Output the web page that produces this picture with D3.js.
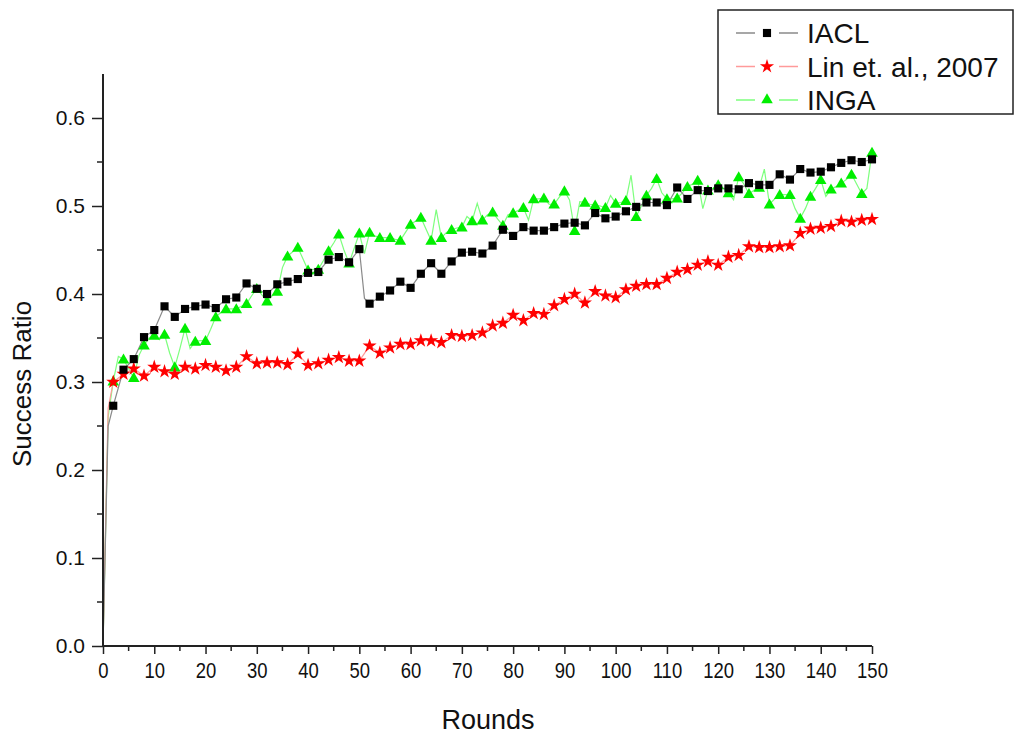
<!DOCTYPE html>
<html>
<head>
<meta charset="utf-8">
<script src="https://cdn.jsdelivr.net/npm/d3@7"></script>
<style>
  html, body { margin: 0; padding: 0; background: #fff; }
  svg { display: block; font-family: "Liberation Sans", Arial, sans-serif; }
</style>
</head>
<body>
<svg id="chart" width="1017" height="738"></svg>
<script>
// ---- data ----
const seriesNames = ["IACL", "Lin et. al., 2007", "INGA"];
const xTicks = [0,10,20,30,40,50,60,70,80,90,100,110,120,130,140,150];
const yTicks = [0.0,0.1,0.2,0.3,0.4,0.5,0.6];

// rounds where markers are drawn
const markerRounds = [0,2,4,6,8,10,12,14,16,18,20,22,24,26,28,30,32,34,36,38,40,42,44,46,48,50,52,54,56,58,60,62,64,66,68,70,72,74,76,78,80,82,84,86,88,90,92,94,96,98,100,102,104,106,108,110,112,114,116,118,120,122,124,126,128,130,132,134,136,138,140,142,144,146,148,150];

const iacl = [0,0.273,0.314,0.326,0.351,0.359,0.386,0.374,0.383,0.386,0.388,0.384,0.394,0.396,0.412,0.406,0.400,0.411,0.414,0.417,0.424,0.425,0.439,0.442,0.436,0.451,0.389,0.397,0.404,0.414,0.407,0.423,0.435,0.423,0.437,0.447,0.448,0.446,0.455,0.473,0.466,0.476,0.472,0.472,0.476,0.480,0.481,0.478,0.492,0.486,0.488,0.494,0.499,0.504,0.504,0.501,0.521,0.508,0.518,0.517,0.520,0.520,0.519,0.526,0.524,0.524,0.536,0.530,0.542,0.538,0.539,0.544,0.549,0.552,0.550,0.553];
const iaclExtraRounds = [1,51];
const iaclExtra = [0.25,0.395];

const lin = [0,0.300,0.309,0.315,0.307,0.317,0.312,0.309,0.317,0.315,0.319,0.317,0.313,0.317,0.329,0.321,0.322,0.322,0.320,0.332,0.319,0.321,0.325,0.328,0.324,0.324,0.341,0.333,0.339,0.343,0.343,0.347,0.347,0.345,0.353,0.352,0.353,0.356,0.364,0.367,0.376,0.370,0.378,0.377,0.387,0.394,0.400,0.390,0.403,0.398,0.396,0.405,0.409,0.411,0.411,0.418,0.425,0.428,0.433,0.437,0.433,0.442,0.444,0.454,0.453,0.453,0.454,0.455,0.469,0.474,0.475,0.477,0.483,0.482,0.484,0.485];
const linExtraRounds = [1];
const linExtra = [0.27];

const inga = [0,0.301,0.326,0.305,0.342,0.353,0.354,0.317,0.361,0.346,0.347,0.374,0.383,0.383,0.389,0.406,0.392,0.403,0.443,0.453,0.427,0.428,0.449,0.468,0.435,0.469,0.470,0.464,0.464,0.461,0.479,0.487,0.461,0.464,0.473,0.476,0.483,0.484,0.493,0.478,0.492,0.498,0.508,0.509,0.502,0.517,0.472,0.504,0.501,0.498,0.503,0.506,0.488,0.512,0.531,0.508,0.509,0.522,0.529,0.518,0.524,0.515,0.533,0.514,0.521,0.502,0.513,0.513,0.486,0.511,0.530,0.519,0.526,0.536,0.514,0.561];
// INGA line also has values on the odd rounds between markers
const ingaOddRounds = [1,3,5,7,9,11,13,15,17,19,21,23,25,27,29,31,33,35,37,39,41,43,45,47,49,51,53,55,57,59,61,63,65,67,69,71,73,75,77,79,81,83,85,87,89,91,93,95,97,99,101,103,105,107,109,111,113,115,117,119,121,123,125,127,129,131,133,135,137,139,141,143,145,147,149];
const ingaOdd = [0.26,0.329,0.315,0.330,0.350,0.348,0.333,0.338,0.338,0.347,0.360,0.379,0.383,0.386,0.398,0.399,0.398,0.430,0.448,0.440,0.428,0.438,0.458,0.450,0.452,0.446,0.466,0.464,0.462,0.470,0.483,0.474,0.496,0.470,0.475,0.488,0.503,0.490,0.485,0.490,0.495,0.484,0.508,0.502,0.510,0.507,0.505,0.502,0.500,0.512,0.504,0.535,0.500,0.520,0.515,0.508,0.515,0.525,0.497,0.520,0.520,0.507,0.525,0.518,0.542,0.508,0.513,0.497,0.497,0.520,0.511,0.522,0.530,0.525,0.520];

// ---- layout ----
const svg = d3.select("#chart");
const x = d3.scaleLinear().domain([0,150]).range([103,872]);
const y = d3.scaleLinear().domain([0,0.6]).range([646,118]);

function pts(rs, vs, exR, exV) {
  const a = rs.map((r,i)=>({r, v: vs[i]}));
  if (exR) exR.forEach((r,i)=>a.push({r, v: exV[i]}));
  return a.sort((p,q)=>p.r-q.r);
}

const line = d3.line().x(d=>x(d.r)).y(d=>y(d.v));

// series lines
svg.append("path").datum(pts(markerRounds, inga, ingaOddRounds, ingaOdd))
  .attr("d", line).attr("fill","none").attr("stroke","#7dff7d").attr("stroke-width",1.2);
svg.append("path").datum(pts(markerRounds, lin, linExtraRounds, linExtra))
  .attr("d", line).attr("fill","none").attr("stroke","#ff9a9a").attr("stroke-width",1.2);
svg.append("path").datum(pts(markerRounds, iacl, iaclExtraRounds, iaclExtra))
  .attr("d", line).attr("fill","none").attr("stroke","#8a8a8a").attr("stroke-width",1.2);

// markers (the point at round 0 sits on the axis corner and is not marked)
const symSquare = d3.symbol().type(d3.symbolSquare).size(66);
const symStar = d3.symbol().type(d3.symbolStar).size(62);
const symTri = d3.symbol().type(d3.symbolTriangle).size(58);
const notZero = d => d.r > 0;

svg.append("g").selectAll("path").data(pts(markerRounds, inga).filter(notZero)).join("path")
  .attr("d", symTri).attr("transform", d=>`translate(${x(d.r)},${y(d.v)+1})`).attr("fill","#00ee00");
svg.append("g").selectAll("path").data(pts(markerRounds, lin).filter(notZero)).join("path")
  .attr("d", symStar).attr("transform", d=>`translate(${x(d.r)},${y(d.v)})`).attr("fill","#ff0000");
svg.append("g").selectAll("path").data(pts(markerRounds, iacl).filter(notZero)).join("path")
  .attr("d", symSquare).attr("transform", d=>`translate(${x(d.r)},${y(d.v)})`).attr("fill","#000");

// axes
const xAxis = d3.axisBottom(x).tickValues(xTicks).tickFormat(d3.format("d")).tickSize(8).tickPadding(8);
const gx = svg.append("g").attr("transform","translate(0,646)").call(xAxis);
gx.select(".domain").remove();
gx.append("g").selectAll("line").data([5,15,25,35,45,55,65,75,85,95,105,115,125,135,145]).join("line")
  .attr("x1",d=>x(d)).attr("x2",d=>x(d)).attr("y1",0).attr("y2",5).attr("stroke","#222").attr("stroke-width",1.5);
gx.append("line").attr("x1",103).attr("x2",x(150)).attr("y1",0).attr("y2",0).attr("stroke","#222").attr("stroke-width",2);
gx.selectAll(".tick line").attr("stroke","#222").attr("stroke-width",1.5);
gx.selectAll(".tick text").attr("font-size",22).attr("fill","#111")
  .attr("font-family","Liberation Sans, Arial, sans-serif")
  .attr("transform","scale(0.84,1)");

const yAxis = d3.axisLeft(y).tickValues(yTicks).tickFormat(d3.format(".1f")).tickSize(11).tickPadding(7);
const gy = svg.append("g").attr("transform","translate(103,0)").call(yAxis);
gy.select(".domain").remove();
gy.append("g").selectAll("line").data([0.05,0.15,0.25,0.35,0.45,0.55]).join("line")
  .attr("x1",-6).attr("x2",0).attr("y1",d=>y(d)).attr("y2",d=>y(d)).attr("stroke","#222").attr("stroke-width",1.5);
gy.append("line").attr("x1",0).attr("x2",0).attr("y1",646).attr("y2",y(0.65)).attr("stroke","#222").attr("stroke-width",2);
gy.selectAll(".tick line").attr("stroke","#222").attr("stroke-width",1.5);
gy.selectAll(".tick text").attr("font-size",21).attr("fill","#111").attr("font-family","Liberation Sans, Arial, sans-serif");

// axis titles
svg.append("text").attr("x",488).attr("y",729).attr("text-anchor","middle")
  .attr("font-size",27).attr("fill","#111").text("Rounds");
svg.append("text").attr("transform","translate(31,384) rotate(-90)").attr("text-anchor","middle")
  .attr("font-size",26).attr("fill","#111").text("Success Ratio");

// legend
const lg = svg.append("g");
lg.append("rect").attr("x",718).attr("y",10).attr("width",295).attr("height",104)
  .attr("fill","#fff").attr("stroke","#222").attr("stroke-width",1.5);
const legendItems = [
  {name: seriesNames[0], lc: "#8a8a8a", sym: symSquare, fc: "#000"},
  {name: seriesNames[1], lc: "#ff9a9a", sym: symStar, fc: "#ff0000"},
  {name: seriesNames[2], lc: "#7dff7d", sym: symTri, fc: "#00ee00"}
];
legendItems.forEach((it,i)=>{
  const yy = 33 + i*33.5;
  lg.append("line").attr("x1",736).attr("x2",755).attr("y1",yy).attr("y2",yy).attr("stroke",it.lc).attr("stroke-width",1.5);
  lg.append("line").attr("x1",779).attr("x2",798).attr("y1",yy).attr("y2",yy).attr("stroke",it.lc).attr("stroke-width",1.5);
  lg.append("path").attr("d",it.sym).attr("transform",`translate(767,${yy})`).attr("fill",it.fc);
  lg.append("text").attr("x",807).attr("y",yy+10).attr("font-size",28).attr("fill","#111").text(it.name);
});
</script>
</body>
</html>
